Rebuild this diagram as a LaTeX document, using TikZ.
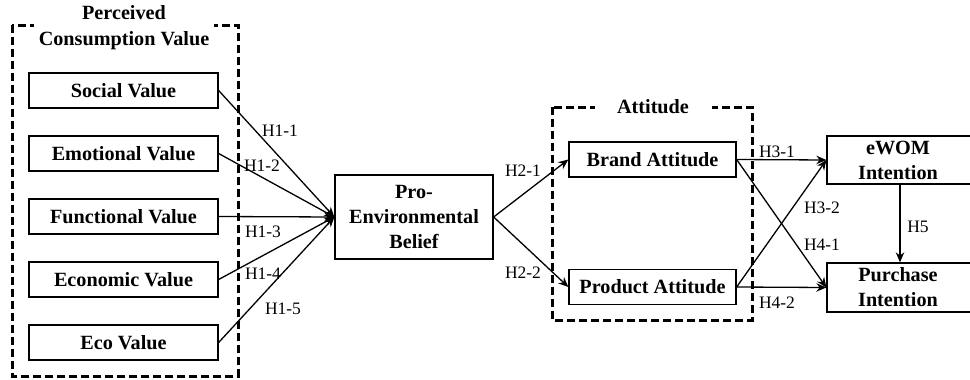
\documentclass[tikz,border=0pt]{standalone}
\usepackage{fontspec}
\setmainfont{Liberation Serif}
\usetikzlibrary{arrows.meta}
\begin{document}
\begin{tikzpicture}[x=1pt,y=-1pt,
  box/.style={draw, line width=1.3pt, minimum width=189pt, minimum height=35pt, inner sep=0pt,
    font=\fontsize{20.2}{25}\selectfont\bfseries, align=center},
  grp/.style={draw, line width=3pt, dash pattern=on 8pt off 4pt},
  ttl/.style={fill=white, inner sep=0pt, font=\fontsize{20.2}{26}\selectfont\bfseries, align=center},
  hyp/.style={font=\fontsize{17.5}{20}\selectfont, inner sep=1pt},
  arr/.style={line width=1.3pt, -{Stealth[length=10pt,width=8.5pt]}}]
\clip (0,0) rectangle (970,380);
\fill[white] (0,0) rectangle (970,380);

% groups
\draw[grp] (12,25) rectangle (238,376);
\node[ttl, minimum width=180pt] (pcvt) at (124,28) {Perceived\\Consumption Value};
\draw[grp] (552,107) rectangle (752,320);
\node[ttl, minimum width=117pt, minimum height=20pt] (attt) at (653,107) {Attitude};

% value boxes
\node[box] (sv)  at (123.5,90.5)  {Social Value};
\node[box] (ev)  at (123.5,153.5) {Emotional Value};
\node[box] (fv)  at (123.5,216.5) {Functional Value};
\node[box] (ecv) at (123.5,279.5) {Economic Value};
\node[box] (eco) at (123.5,342.5) {Eco Value};

\node[box, minimum width=158pt, minimum height=84pt] (peb) at (414,217) {Pro-\\Environmental\\Belief};

\node[box, minimum width=167pt] (ba) at (652.5,159.5) {Brand Attitude};
\node[box, minimum width=167pt] (pa) at (652.5,287) {Product Attitude};

\node[box, minimum width=146pt, minimum height=48pt] (ew) at (900,160) {eWOM\hspace*{4pt}\\Intention\hspace*{4pt}};
\node[box, minimum width=146pt, minimum height=49pt] (pi) at (900,287.5) {Purchase\hspace*{4pt}\\Intention\hspace*{4pt}};

% arrows
\draw[arr] (sv.east)  -- (peb.west);
\draw[arr] (ev.east)  -- (peb.west);
\draw[arr] (fv.east)  -- (peb.west);
\draw[arr] (ecv.east) -- (peb.west);
\draw[arr] (eco.east) -- (peb.west);
\draw[arr] (peb.east) -- (ba.west);
\draw[arr] (peb.east) -- (pa.west);
\draw[arr] (ba.east) -- (ew.west);
\draw[arr] (pa.east) -- (ew.west);
\draw[arr] (ba.east) -- (pi.west);
\draw[arr] (pa.east) -- (pi.west);
\draw[arr] (ew.south) -- (pi.north);

% labels
\node[hyp] (h11) at (280,131) {H1-1};
\node[hyp] (h12) at (262,166) {H1-2};
\node[hyp] (h13) at (263,232) {H1-3};
\node[hyp] (h14) at (263,274) {H1-4};
\node[hyp] (h15) at (283,309) {H1-5};
\node[hyp] (h21) at (523,171) {H2-1};
\node[hyp] (h22) at (523,273) {H2-2};
\node[hyp] (h31) at (777,152) {H3-1};
\node[hyp] (h32) at (822,208) {H3-2};
\node[hyp] (h41) at (822,245) {H4-1};
\node[hyp] (h42) at (777,303) {H4-2};
\node[hyp] (h5)  at (918,227) {H5};
\end{tikzpicture}
\end{document}
